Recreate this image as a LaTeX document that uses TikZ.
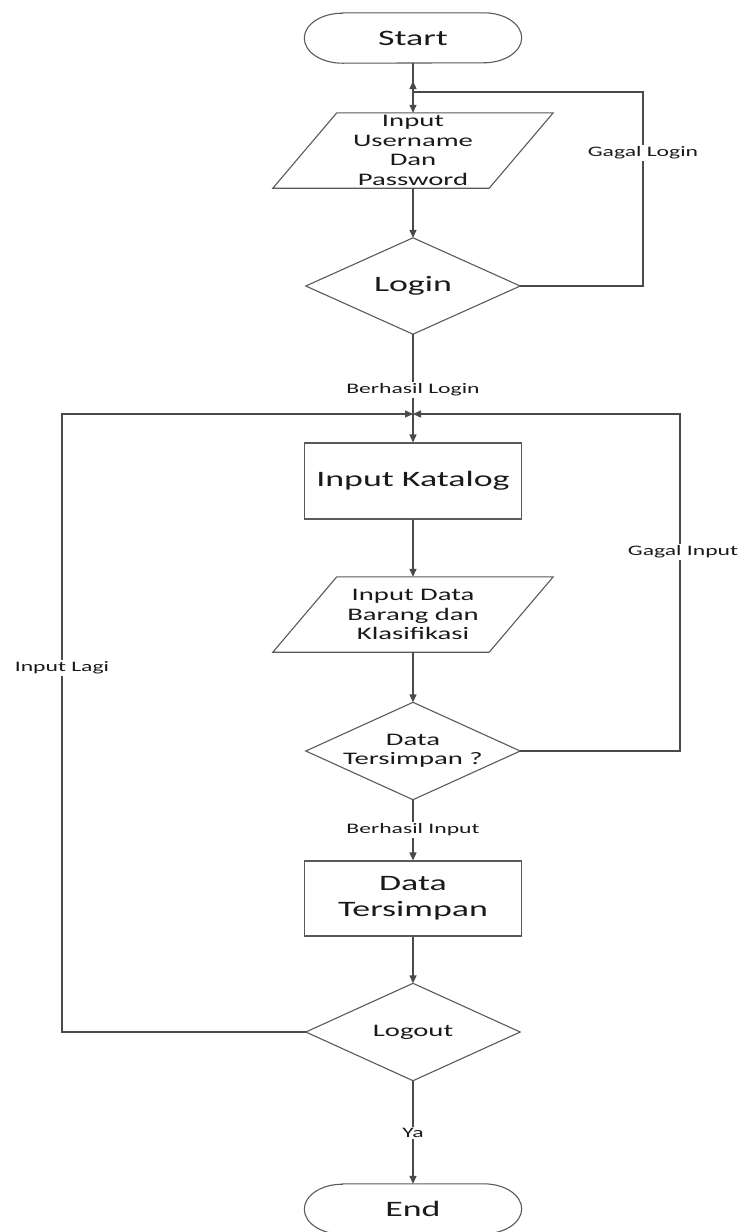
\documentclass[tikz,border=0pt]{standalone}
\usepackage{fontspec}
\setmainfont{Carlito}[FakeStretch=1.63]
\usetikzlibrary{arrows.meta}
\definecolor{linecol}{HTML}{4A4A4A}
\definecolor{edgecol}{HTML}{5A5A5A}
\definecolor{txtcol}{HTML}{1A1A1A}
\tikzset{
  flow/.style={draw=linecol, line width=1.4pt, -{Triangle[length=8pt,width=7pt]}},
  outline/.style={draw=edgecol, line width=1.1pt},
  big/.style={font=\fontsize{22}{26}\selectfont},
  mid/.style={font=\fontsize{17.6}{19.5}\selectfont},
  lbl/.style={font=\fontsize{14.5}{16}\selectfont, fill=white, inner sep=1.5pt, text=txtcol},
  holder/.style={inner sep=0pt, text=txtcol, align=center},
  box/.style={holder, outline, minimum width=217pt, minimum height=76pt},
}
\begin{document}
\begin{tikzpicture}[x=1pt, y=-1pt]
  \useasboundingbox[fill=white] (0,0) rectangle (743,1232);

  % text holders; outlines of terminals, inputs and decisions are drawn from their anchors
  \node[holder, big, minimum width=217pt, minimum height=50pt] (start) at (413,38) {Start};
  \node[holder, mid, minimum width=216pt, minimum height=75pt] (in1) at (413,150.5)
       {Input\\Username\\Dan\\Password};
  \node[holder, big, minimum width=214pt, minimum height=96pt] (login) at (413,286) {Login};
  \node[box, big] (katalog) at (413,481) {Input Katalog};
  \node[holder, mid, minimum width=216pt, minimum height=75pt] (in2) at (413,614.5)
       {Input Data\\Barang dan\\Klasifikasi};
  \node[holder, mid, minimum width=214pt, minimum height=97pt] (simpan) at (413,751)
       {Data\\Tersimpan ?};
  \node[box, big, minimum height=75pt] (tersimpan) at (413,898.5) {Data\\Tersimpan};
  \node[holder, mid, minimum width=214pt, minimum height=97pt] (logout) at (413,1032) {Logout};
  \node[holder, big, minimum width=217pt, minimum height=50pt] (end) at (413,1209) {End};

  % terminals
  \foreach \t in {start,end}
    \draw[outline] ([xshift=38pt]\t.north west) -- ([xshift=-38pt]\t.north east)
      arc[start angle=90, end angle=-90, x radius=38pt, y radius=25pt]
      -- ([xshift=38pt]\t.south west)
      arc[start angle=270, end angle=90, x radius=38pt, y radius=25pt] -- cycle;

  % input parallelograms
  \foreach \p in {in1,in2}
    \draw[outline] ([xshift=32pt]\p.north west) -- ([xshift=32pt]\p.north east)
      -- ([xshift=-32pt]\p.south east) -- ([xshift=-32pt]\p.south west) -- cycle;

  % decisions
  \foreach \d in {login,simpan,logout}
    \draw[outline] (\d.north) -- (\d.east) -- (\d.south) -- (\d.west) -- cycle;

  % bend points of the loops
  \coordinate (gl) at (643,92);
  \coordinate (gm) at (413,92);
  \coordinate (gt) at (413,81);
  \coordinate (j)  at (413,414);
  \coordinate (ll) at (62,414);
  \coordinate (rr) at (680,414);

  % main flow
  \draw[flow] (start) -- (in1);
  \draw[flow] (in1) -- (login);
  \draw[flow] (login) -- (katalog);
  \draw[flow] (katalog) -- (in2);
  \draw[flow] (in2) -- (simpan);
  \draw[flow] (simpan) -- (tersimpan);
  \draw[flow] (tersimpan) -- (logout);
  \draw[flow] (logout) -- (end);

  % loops back
  \draw[flow] (login.east) -| (gl) -- (gm) -- (gt);
  \draw[flow] (simpan.east) -| (rr) -- (j);
  \draw[flow] (logout.west) -| (ll) -- (j);

  % connector labels
  \node[lbl] at (643,153) {Gagal Login};
  \node[lbl] at (413,390) {Berhasil Login};
  \node[lbl] at (683,552) {Gagal Input};
  \node[lbl] at (62,668) {Input Lagi};
  \node[lbl] at (413,830) {Berhasil Input};
  \node[lbl] at (413,1133) {Ya};
\end{tikzpicture}
\end{document}
